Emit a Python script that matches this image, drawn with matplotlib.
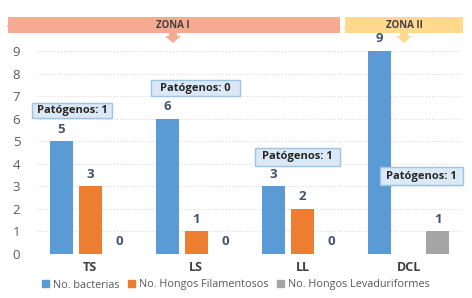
import matplotlib.pyplot as plt
import numpy as np
from matplotlib.patches import Rectangle, Polygon

categories = ["TS", "LS", "LL", "DCL"]
bacterias = [5, 6, 3, 9]
filamentosos = [3, 1, 2, None]
levaduriformes = [0, 0, 0, 1]
series_names = ["No. bacterias", "No. Hongos Filamentosos", "No. Hongos Levaduriformes"]
patogenos = ["Patógenos: 1", "Patógenos: 0", "Patógenos: 1", "Patógenos: 1"]
zonas = ["ZONA I", "ZONA II"]

W, H = 472, 298
plt.rcParams["font.family"] = ["Open Sans", "DejaVu Sans"]
fig = plt.figure(figsize=(W / 100, H / 100), dpi=100)
ax = fig.add_axes([37 / W, 1 - 254 / H, 425 / W, (254 - 28.4) / H])


def px(x, y):
    return x / W, 1 - y / H


colors = ["#5b9bd5", "#ed7d31", "#a5a5a5"]
x = np.arange(len(categories))
width = 0.217
step = 0.273
label_color = "#44546a"
for i, (vals, c) in enumerate(zip([bacterias, filamentosos, levaduriformes], colors)):
    pos = x + (i - 1) * step
    for p, v in zip(pos, vals):
        if v is None:
            continue
        ax.bar(p, v, width=width, color=c, zorder=2)
        ax.annotate(str(v), (p, v), xytext=(0, 4), textcoords="offset points",
                    ha="center", va="bottom", fontsize=9.5, fontweight="bold", color=label_color)

ax.set_xlim(-0.5, len(categories) - 0.5)
ax.set_ylim(0, 10)
ax.set_yticks(range(0, 11))
ax.set_xticks(x)
ax.set_xticklabels(categories, fontsize=9, fontweight="bold", color="#404040")
ax.tick_params(axis="y", labelsize=9.5, labelcolor="#595959", length=0, pad=12)
ax.tick_params(axis="x", length=0, pad=5)
ax.yaxis.grid(True, color="#d9d9d9", linestyle=":", linewidth=0.8, zorder=0)
for s in ax.spines.values():
    s.set_visible(False)

# legend
handles = [Rectangle((0, 0), 1, 1, color=c) for c in colors]
fig.legend(handles, series_names, loc="center", bbox_to_anchor=px(236, 285), ncol=3,
           frameon=False, fontsize=7.8, handlelength=0.6, handleheight=0.6,
           handletextpad=0.4, columnspacing=0.8, labelcolor="#595959",
           borderpad=0.1)

# pathogen boxes
boxes = [(32, 103, 80, 15), (151, 80, 89, 16), (255, 148, 85, 18), (380, 167, 83, 18)]
for (bx, by, bw, bh), txt in zip(boxes, patogenos):
    x0, y0 = px(bx, by + bh)
    fig.patches.append(Rectangle((x0, y0), bw / W, bh / H, transform=fig.transFigure,
                                 facecolor="#dbe9f6", edgecolor="#9dc3e6", linewidth=1, zorder=5))
    fig.text(*px(bx + bw / 2, by + bh / 2), txt, ha="center", va="center",
             fontsize=8, fontweight="bold", color="#262626", zorder=6)

# zone banners
banners = [(8, 17, 332, 16, "#f5ab91", 173), (345, 17, 118, 16, "#fed98e", 404)]
for (bx, by, bw, bh, c, ax_x), txt in zip(banners, zonas):
    x0, y0 = px(bx, by + bh)
    fig.patches.append(Rectangle((x0, y0), bw / W, bh / H, transform=fig.transFigure,
                                 facecolor=c, edgecolor="none", zorder=5))
    arrow = [px(ax_x - 4, by + bh), px(ax_x + 4, by + bh), px(ax_x + 4, by + bh + 3),
             px(ax_x + 8, by + bh + 3), px(ax_x, by + bh + 10), px(ax_x - 8, by + bh + 3),
             px(ax_x - 4, by + bh + 3)]
    fig.patches.append(Polygon(arrow, closed=True, transform=fig.transFigure,
                               facecolor=c, edgecolor="none", zorder=5))
    fig.text(*px(ax_x, by + bh / 2), txt,
             ha="center", va="center", fontsize=7, fontweight="bold", color="#404040", zorder=6)

fig.savefig("out.png", dpi=100)
